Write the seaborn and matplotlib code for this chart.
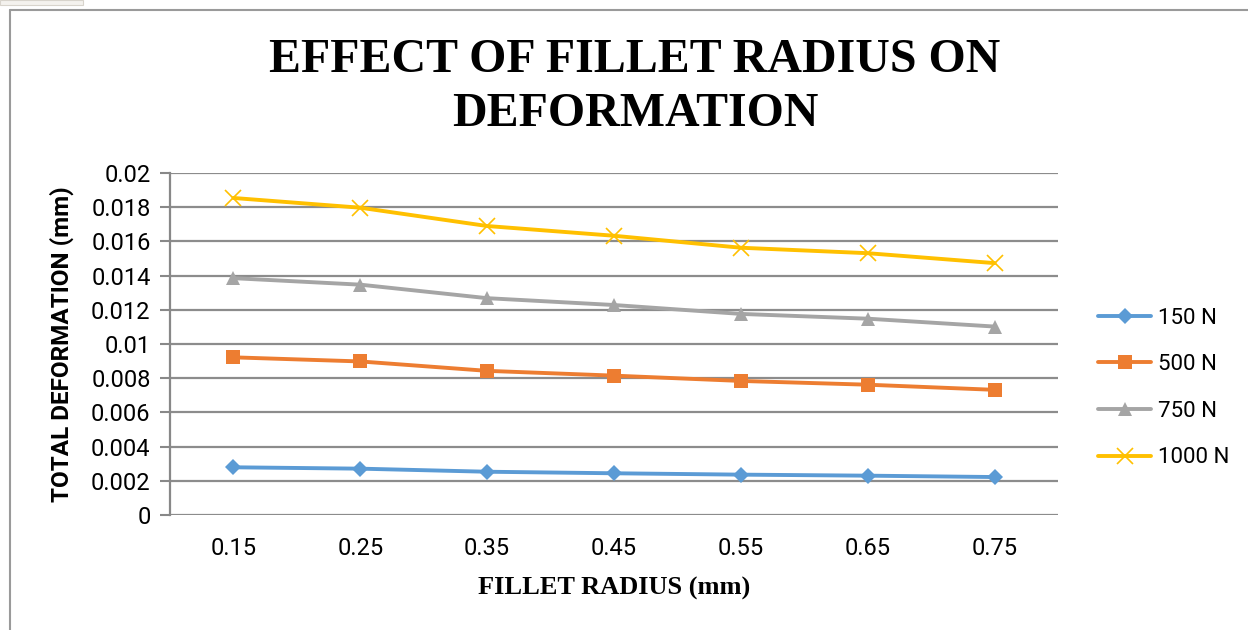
import matplotlib
matplotlib.use("Agg")
import matplotlib.pyplot as plt
import matplotlib.patches as mpatches
import matplotlib.lines as mlines
import seaborn as sns
import numpy as np
import pandas as pd

# data
radius = [0.15, 0.25, 0.35, 0.45, 0.55, 0.65, 0.75]
loads = ["150 N", "500 N", "750 N", "1000 N"]
defo_150 = [0.00279, 0.00271, 0.00253, 0.00244, 0.00236, 0.00230, 0.00222]
defo_500 = [0.00922, 0.00898, 0.00843, 0.00815, 0.00784, 0.00762, 0.00732]
defo_750 = [0.01385, 0.01347, 0.01268, 0.01228, 0.01176, 0.01148, 0.01102]
defo_1000 = [0.01854, 0.01797, 0.01690, 0.01633, 0.01563, 0.01531, 0.01473]

df = pd.DataFrame({
    "radius": radius * 4,
    "deformation": defo_150 + defo_500 + defo_750 + defo_1000,
    "load": [l for l in loads for _ in radius],
})

colors = {"150 N": "#5B9BD5", "500 N": "#ED7D31", "750 N": "#A5A5A5", "1000 N": "#FFC000"}
markers = {"150 N": "D", "500 N": "s", "750 N": "^", "1000 N": "x"}
msizes = {"150 N": 8, "500 N": 10, "750 N": 10, "1000 N": 11}
lw = 2.8

sns.set_style("white")
sans = ["Roboto", "DejaVu Sans"]
serif = ["Liberation Serif", "DejaVu Serif"]
plt.rcParams["font.family"] = sans
plt.rcParams["text.color"] = "black"
plt.rcParams["xtick.color"] = "black"
plt.rcParams["ytick.color"] = "black"

fig = plt.figure(figsize=(12.48, 6.3), dpi=100)
ax = fig.add_axes([170 / 1248, 1 - 515 / 630, 888 / 1248, 342 / 630])

for load in loads:
    sub = df[df["load"] == load]
    sns.lineplot(
        data=sub, x="radius", y="deformation", ax=ax,
        color=colors[load], linewidth=lw, marker=markers[load],
        markersize=msizes[load], markeredgewidth=1.2 if load == "1000 N" else 0,
        markeredgecolor=colors[load], label=load, legend=False,
    )

ax.set_xlim(0.10, 0.80)
ax.set_ylim(0, 0.02)
yt = np.arange(0, 0.0201, 0.002)
ax.set_yticks(yt)
ax.set_yticklabels([f"{v:g}" for v in np.round(yt, 3)])
ax.set_xticks(radius)
ax.set_xticklabels([f"{r:.2f}" for r in radius])
ax.tick_params(axis="y", labelsize=17, length=7, width=1.5, color="#888888",
               labelcolor="black", direction="out", pad=7, left=True)
ax.tick_params(axis="x", labelsize=17, length=0, pad=16, labelcolor="black")

ax.grid(axis="y", color="#8c8c8c", linewidth=1.6)
ax.set_axisbelow(True)
for s in ["top", "right", "bottom"]:
    ax.spines[s].set_visible(False)
ax.spines["left"].set_color("#888888")
ax.spines["left"].set_linewidth(1.6)

ax.set_xlabel("FILLET RADIUS (mm)", fontsize=19, fontweight="bold",
              family=serif, labelpad=12, color="black")
ax.set_ylabel("TOTAL DEFORMATION (mm)", fontsize=17.5, fontweight="bold",
              family=sans, labelpad=12, color="black")

fig.text(635 / 1248, 1 - 87 / 630, "EFFECT OF FILLET RADIUS ON\nDEFORMATION",
         ha="center", va="center", fontsize=34.5, fontweight="bold",
         family=serif, linespacing=1.32, color="black")

handles = [
    mlines.Line2D([], [], color=colors[l], linewidth=lw, marker=markers[l],
                  markersize=msizes[l], markeredgewidth=1.2 if l == "1000 N" else 0,
                  markeredgecolor=colors[l])
    for l in loads
]
fig.legend(handles, loads, loc="center left", bbox_to_anchor=(1078 / 1248, 1 - 388 / 630),
           frameon=False, fontsize=16, handlelength=2.4, labelspacing=1.15,
           handletextpad=0.3)

# chart frame like the spreadsheet export
fig.add_artist(mlines.Line2D([10 / 1248, 1], [1 - 10 / 630, 1 - 10 / 630],
                             transform=fig.transFigure, color="#9a9a9a", linewidth=1.5))
fig.add_artist(mlines.Line2D([10 / 1248, 10 / 1248], [0, 1 - 10 / 630],
                             transform=fig.transFigure, color="#9a9a9a", linewidth=1.5))
fig.add_artist(mpatches.Rectangle((0, 1 - 5 / 630), 83 / 1248, 5 / 630,
                                  transform=fig.transFigure, facecolor="#f4f2ee",
                                  edgecolor="#d8d4cc", linewidth=0.8))

fig.savefig("out.png", dpi=100)
